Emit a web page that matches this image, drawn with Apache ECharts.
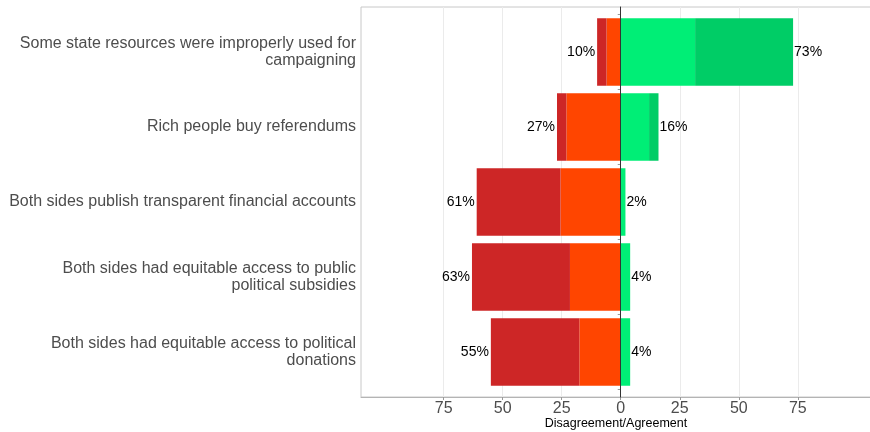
<!DOCTYPE html>
<html>
<head>
<meta charset="utf-8">
<script src="https://cdn.jsdelivr.net/npm/echarts@6/dist/echarts.min.js"></script>
<style>html,body{margin:0;padding:0;background:#fff;}#c{width:870px;height:432px;}</style>
</head>
<body>
<div id="c"></div>
<script>
const categories = [
  "Some state resources were improperly used for\ncampaigning",
  "Rich people buy referendums",
  "Both sides publish transparent financial accounts",
  "Both sides had equitable access to public\npolitical subsidies",
  "Both sides had equitable access to political\ndonations"
];
const stronglyDisagree = [4, 4, 35.5, 41.5, 37.5];
const disagree = [6, 23, 25.5, 21.5, 17.5];
const agree = [31.5, 12, 2, 4, 4];
const stronglyAgree = [41.5, 4, 0, 0, 0];
const disagreeLabels = ["10%", "27%", "61%", "63%", "55%"];
const agreeLabels = ["73%", "16%", "2%", "4%", "4%"];
const tickValues = [-75, -50, -25, 0, 25, 50, 75];
const axisTitle = "Disagreement/Agreement";

const X_MIN = -110, X_MAX = 106;
const FONT = "'Liberation Sans', Arial, sans-serif";

const chart = echarts.init(document.getElementById('c'), null, {renderer: 'canvas'});
const labelStyle = {fontSize: 14, color: '#000', fontFamily: FONT};

chart.setOption({
  animation: false,
  backgroundColor: '#fff',
  grid: [
    {left: 361, right: -1, top: 7, bottom: 35, show: true, borderColor: '#c8c8c8', borderWidth: 1,
      backgroundColor: 'transparent', outerBoundsMode: 'none', containLabel: false},
    {left: 361, right: -1, top: 14.5, bottom: 42.5, outerBoundsMode: 'none', containLabel: false}
  ],
  xAxis: [
    {
      type: 'value', gridIndex: 0, min: X_MIN, max: X_MAX,
      name: axisTitle, nameLocation: 'middle', nameGap: 20, nameMoveOverlap: false,
      nameTextStyle: {fontSize: 12.5, color: '#000', fontFamily: FONT, verticalAlign: 'top'},
      axisLine: {show: true, lineStyle: {color: '#b4b4b4'}},
      axisTick: {show: true, length: 3, lineStyle: {color: '#999'}, customValues: tickValues},
      axisLabel: {customValues: tickValues, fontSize: 16, color: '#4d4d4d', margin: 4, fontFamily: FONT,
        formatter: v => String(Math.abs(v))},
      splitLine: {show: false}
    },
    {
      type: 'value', gridIndex: 1, min: X_MIN, max: X_MAX, show: false,
      splitLine: {show: false}
    }
  ],
  yAxis: [
    {
      type: 'value', gridIndex: 0, min: 0, max: 1, z: 10,
      axisLine: {show: true, onZero: true, lineStyle: {color: '#333', width: 1}},
      axisTick: {show: false}, axisLabel: {show: false}, splitLine: {show: false}
    },
    {
      type: 'category', gridIndex: 1, data: categories, inverse: true,
      axisLine: {show: false},
      axisTick: {show: true, length: 3, lineStyle: {color: '#999'}},
      axisLabel: {fontSize: 16, lineHeight: 17, color: '#4d4d4d', margin: 5, fontFamily: FONT, align: 'right'}
    }
  ],
  series: [
    {
      type: 'line', xAxisIndex: 0, yAxisIndex: 0, data: [], silent: true, z: 0,
      markLine: {
        silent: true, symbol: 'none', label: {show: false}, z: 0,
        lineStyle: {color: '#ebebeb', type: 'solid', width: 1},
        data: tickValues.filter(v => v !== 0).map(v => ({xAxis: v}))
      }
    },
    {
      name: 'Disagree', type: 'bar', xAxisIndex: 1, yAxisIndex: 1, stack: 'all',
      barCategoryGap: '10%', itemStyle: {color: '#FF4500'},
      data: disagree.map(v => -v), z: 3
    },
    {
      name: 'Strongly disagree', type: 'bar', xAxisIndex: 1, yAxisIndex: 1, stack: 'all',
      barCategoryGap: '10%', itemStyle: {color: '#CD2626'},
      data: stronglyDisagree.map(v => -v), z: 3,
      label: {show: true, position: 'left', distance: 2, ...labelStyle,
        formatter: p => disagreeLabels[p.dataIndex]}
    },
    {
      name: 'Agree', type: 'bar', xAxisIndex: 1, yAxisIndex: 1, stack: 'all',
      barCategoryGap: '10%', itemStyle: {color: '#00EE76'},
      data: agree, z: 3
    },
    {
      name: 'Strongly agree', type: 'bar', xAxisIndex: 1, yAxisIndex: 1, stack: 'all',
      barCategoryGap: '10%', itemStyle: {color: '#00CD66'},
      data: stronglyAgree, z: 3,
      label: {show: true, position: 'right', distance: 1, ...labelStyle,
        formatter: p => agreeLabels[p.dataIndex]}
    }
  ]
});
</script>
</body>
</html>
